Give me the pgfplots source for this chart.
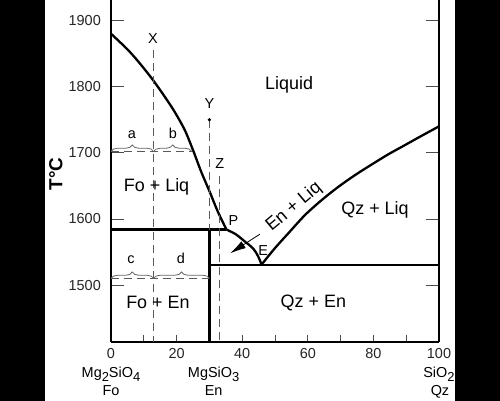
\documentclass[border=0pt]{standalone}
\usepackage{fontspec}
\setmainfont{Liberation Sans}
\usepackage{pgfplots}
\pgfplotsset{compat=1.18}
\usetikzlibrary{arrows.meta,decorations.pathreplacing}

\newcommand\sub[1]{\raisebox{-0.33em}{\fontsize{13}{13}\selectfont #1}}
\tikzset{
  bnd/.style={black, line width=2.3bp},
  dsh/.style={black!65, line width=0.9bp, dash pattern=on 8bp off 5bp},
  brc/.style={black!60, line width=0.8bp, decorate, decoration={brace, amplitude=6.5bp}},
  lbl/.style={font=\fontsize{14.5}{16}\selectfont, inner sep=0pt, anchor=base},
  reg/.style={font=\fontsize{18}{20}\selectfont, inner sep=0pt, anchor=base},
}
\pgfplotsset{
  common/.style={
    at={(111bp,59bp)}, anchor=south west,
    scale only axis, width=328bp, height=342bp,
    xmin=0, xmax=100, ymin=1414, ymax=1931,
    tick align=inside,
    every tick/.style={black!70, line width=0.8bp},
    tick label style={font=\fontsize{14.5}{16}\selectfont, text=black!85, inner sep=0pt},
  },
}

\begin{document}
\begin{tikzpicture}
\useasboundingbox (0,0) rectangle (500bp,401bp);
\fill[white] (0,0) rectangle (500bp,401bp);

% y ticks (long) only
\begin{axis}[common,
  hide x axis, axis y line*=box, y axis line style={draw=none},
  ytick={1500,1600,1700,1800,1900},
  yticklabels={1500,1600,1700,1800,1900},
  yticklabel style={xshift=-10bp},
  major tick length=13bp,
]
\end{axis}

\begin{axis}[common,
  axis x line*=bottom, axis y line*=box,
  axis line style={line width=2.1bp},
  xtick={0,10,...,100},
  xticklabels={0,,20,,40,,60,,80,,100},
  xticklabel style={yshift=-6bp},
  ytick=\empty,
  major tick length=7bp,
  clip=false,
]
% phase boundaries
\addplot[bnd, smooth] coordinates {(0,1880) (5.2,1855.4) (9.2,1832.7) (12.8,1810) (16.4,1784.7) (19.4,1762) (22.5,1734.3) (25.0,1704.1) (27.5,1671.3) (30.1,1641) (32.6,1610.7) (35.2,1584)};
\addplot[bnd, smooth] coordinates {(35.2,1584) (38,1577) (40.3,1568) (43.4,1555) (44.9,1543) (45.9,1531)};
\addplot[bnd, smooth] coordinates {(45.9,1531) (49.9,1555.4) (54.0,1578) (59.1,1605.7) (64.2,1628.4) (69.3,1648.5) (74.4,1666.3) (79.5,1682.4) (84.5,1697.6) (89.6,1711.6) (94.7,1725.7) (100,1740)};
\addplot[bnd] coordinates {(0,1584) (35.2,1584)};
\addplot[bnd] coordinates {(30,1414) (30,1584)};
\addplot[bnd] coordinates {(30,1530) (100,1530)};

% isopleths and tie lines
\addplot[dsh] coordinates {(13,1855) (13,1414)};
\addplot[dsh] coordinates {(30,1750) (30,1584)};
\addplot[dsh] coordinates {(33,1665) (33,1414)};
\addplot[dsh] coordinates {(0,1702) (24.6,1702)};
\addplot[dsh] coordinates {(0,1510) (30,1510)};
\addplot[only marks, mark=*, mark size=1.5bp, black] coordinates {(30,1750)};

\draw[brc] (axis cs:0,1702) -- (axis cs:13,1702);
\draw[brc] (axis cs:13,1702) -- (axis cs:24.6,1702);
\draw[brc] (axis cs:0,1510) -- (axis cs:13,1510);
\draw[brc] (axis cs:13,1510) -- (axis cs:30,1510);

\draw[black, line width=0.8bp, -{Latex[length=16bp, width=8bp]}] (axis cs:45.4,1577) -- (axis cs:36.3,1548);

% labels
\node[lbl] at (axis cs:6.4,1722) {a};
\node[lbl] at (axis cs:18.9,1722) {b};
\node[lbl] at (axis cs:6.1,1533) {c};
\node[lbl] at (axis cs:21.3,1533) {d};
\node[lbl] at (axis cs:12.8,1865.5) {X};
\node[lbl] at (axis cs:30,1767) {Y};
\node[lbl] at (axis cs:33.2,1676.5) {Z};
\node[lbl] at (axis cs:37.3,1590.5) {P};
\node[lbl] at (axis cs:46.4,1545) {E};

\node[reg] at (axis cs:54.3,1795) {Liquid};
\node[reg] at (axis cs:13.9,1642) {Fo + Liq};
\node[reg] at (axis cs:14.3,1464.6) {Fo + En};
\node[reg] at (axis cs:61.7,1466) {Qz + En};
\node[reg] at (axis cs:80.5,1607) {Qz + Liq};
\node[font=\fontsize{18}{20}\selectfont, inner sep=0pt, rotate=40] at (axis cs:55.8,1618) {En + Liq};

\node[lbl] at (axis cs:0,1361) {Mg\sub{2}SiO\sub{4}};
\node[lbl] at (axis cs:0,1333) {Fo};
\node[lbl] at (axis cs:31.3,1361) {MgSiO\sub{3}};
\node[lbl] at (axis cs:31.3,1333) {En};
\node[lbl] at (axis cs:100,1361) {SiO\sub{2}};
\node[lbl] at (axis cs:100.3,1333) {Qz};
\end{axis}

\fill[black] (0,0) rectangle (45bp,401bp);
\fill[black] (455bp,0) rectangle (500bp,401bp);
\node[rotate=90, font=\bfseries\fontsize{19}{20}\selectfont, inner sep=0pt] at (55.8bp,227bp) {T°C};
\end{tikzpicture}
\end{document}
